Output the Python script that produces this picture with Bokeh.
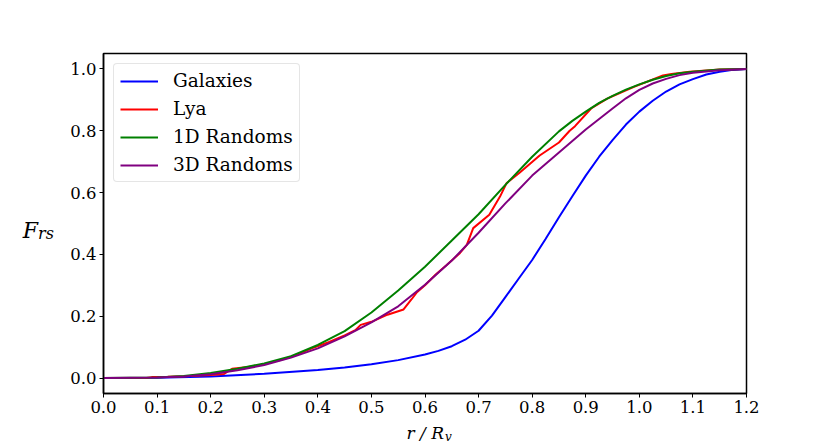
from bokeh.plotting import figure
from bokeh.models import Range1d, FixedTicker
from bokeh.layouts import row, column
from bokeh.core.properties import value
from bokeh.embed import file_html
from bokeh.resources import INLINE

# ---- data ----
r_gal = [0.0, 0.1, 0.2, 0.3, 0.4, 0.45, 0.5, 0.55, 0.6, 0.625, 0.65, 0.675, 0.7,
         0.725, 0.75, 0.775, 0.8, 0.825, 0.85, 0.875, 0.9, 0.925, 0.95, 0.975,
         1.0, 1.025, 1.05, 1.075, 1.1, 1.125, 1.15, 1.175, 1.2]
galaxies = [0.0, 0.001, 0.005, 0.014, 0.026, 0.034, 0.045, 0.058, 0.076, 0.088,
            0.103, 0.124, 0.153, 0.202, 0.262, 0.322, 0.382, 0.45, 0.52, 0.588,
            0.655, 0.716, 0.77, 0.82, 0.862, 0.897, 0.927, 0.95, 0.967, 0.982,
            0.991, 0.997, 1.0]
r_1d = [0.0, 0.1, 0.15, 0.2, 0.25, 0.3, 0.35, 0.4, 0.45, 0.5, 0.55, 0.6, 0.65, 0.7,
        0.75, 0.8, 0.85, 0.875, 0.9, 0.925, 0.95, 0.975, 1.0, 1.025, 1.05, 1.075,
        1.1, 1.15, 1.2]
randoms_1d = [0.0, 0.002, 0.007, 0.016, 0.03, 0.047, 0.071, 0.107, 0.152, 0.212,
              0.283, 0.36, 0.445, 0.53, 0.625, 0.716, 0.798, 0.832, 0.862, 0.89,
              0.913, 0.933, 0.95, 0.965, 0.977, 0.986, 0.991, 0.998, 1.0]
r_3d = [0.0, 0.1, 0.15, 0.2, 0.25, 0.3, 0.35, 0.4, 0.45, 0.5, 0.55, 0.6, 0.65, 0.7,
        0.75, 0.8, 0.85, 0.9, 0.95, 0.975, 1.0, 1.025, 1.05, 1.075, 1.1, 1.15, 1.2]
randoms_3d = [0.0, 0.002, 0.005, 0.012, 0.025, 0.042, 0.066, 0.096, 0.135, 0.18,
              0.232, 0.302, 0.38, 0.47, 0.565, 0.655, 0.73, 0.804, 0.872, 0.905,
              0.932, 0.953, 0.968, 0.98, 0.988, 0.996, 1.0]
r_lya = [0.0, 0.08, 0.09, 0.12, 0.15, 0.2, 0.225, 0.24, 0.27, 0.3, 0.33, 0.36, 0.39,
         0.42, 0.45, 0.47, 0.48, 0.5, 0.53, 0.56, 0.575, 0.585, 0.6, 0.62, 0.64,
         0.665, 0.678, 0.69, 0.72, 0.74, 0.752, 0.777, 0.814, 0.85, 0.87, 0.88,
         0.91, 0.94, 0.99, 1.044, 1.06, 1.094, 1.15, 1.2]
lya = [0.0, 0.0, 0.003, 0.004, 0.006, 0.01, 0.013, 0.03, 0.036, 0.045, 0.058, 0.075,
       0.097, 0.116, 0.138, 0.155, 0.172, 0.182, 0.205, 0.222, 0.255, 0.278, 0.3,
       0.335, 0.365, 0.404, 0.431, 0.485, 0.528, 0.587, 0.63, 0.665, 0.72, 0.762,
       0.8, 0.815, 0.872, 0.904, 0.942, 0.979, 0.984, 0.991, 0.998, 1.0]
x_ticks = [0.0, 0.1, 0.2, 0.3, 0.4, 0.5, 0.6, 0.7, 0.8, 0.9, 1.0, 1.1, 1.2]
y_ticks = [0.0, 0.2, 0.4, 0.6, 0.8, 1.0]
x_label_main, x_label_sub = "r / R", "v"
y_label_main, y_label_sub = "F", "rs"

SERIF = "DejaVu Serif"
W, H = 830, 443
LEFT_W = 60          # strip holding the y label
BOTTOM_H = 25        # strip holding the x label
MAIN_W, MAIN_H = W - LEFT_W, H - BOTTOM_H

# ---- main plot ----
p = figure(width=MAIN_W, height=MAIN_H, output_backend="svg", toolbar_location=None,
           title=None, x_range=Range1d(0, 1.2), y_range=Range1d(-0.05, 1.05),
           min_border_left=43, min_border_right=84, min_border_top=53,
           min_border_bottom=25)

p.line(r_gal, galaxies, line_color="blue", line_width=2, legend_label="Galaxies")
p.line(r_lya, lya, line_color="red", line_width=2, legend_label="Lya")
p.line(r_1d, randoms_1d, line_color="green", line_width=2, legend_label="1D Randoms")
p.line(r_3d, randoms_3d, line_color="purple", line_width=2, legend_label="3D Randoms")

p.grid.visible = False
p.outline_line_color = "black"
p.outline_line_width = 1.5
p.outline_line_alpha = 1.0

for ax in (p.xaxis[0], p.yaxis[0]):
    ax.axis_line_color = "black"
    ax.axis_line_width = 1.5
    ax.major_tick_line_color = "black"
    ax.major_tick_line_width = 1
    ax.major_tick_out = 4
    ax.major_tick_in = 0
    ax.minor_tick_line_color = None
    ax.major_label_text_font = SERIF
    ax.major_label_text_font_size = "16.5px"
    ax.major_label_text_color = "black"
    ax.major_label_standoff = 3

p.xaxis[0].ticker = FixedTicker(ticks=x_ticks)
p.yaxis[0].ticker = FixedTicker(ticks=y_ticks)
p.xaxis[0].major_label_overrides = {t: f"{t:.1f}" for t in x_ticks}
p.yaxis[0].major_label_overrides = {t: f"{t:.1f}" for t in y_ticks}

lg = p.legend[0]
lg.location = "top_left"
lg.margin = 10
lg.padding = 6
lg.spacing = 7
lg.glyph_width = 38
lg.glyph_height = 20
lg.label_height = 20
lg.label_standoff = 15
lg.label_text_font = SERIF
lg.label_text_font_size = "18.5px"
lg.label_text_color = "black"
lg.border_line_color = "#cccccc"
lg.border_line_width = 1
lg.background_fill_color = "white"
lg.background_fill_alpha = 0.8
if hasattr(lg, "border_radius"):
    lg.border_radius = 4


def strip(width, height, x0, y0):
    """A bare figure whose coordinates are page pixels (y downward)."""
    f = figure(width=width, height=height, output_backend="svg", toolbar_location=None,
               title=None, x_axis_type=None, y_axis_type=None,
               x_range=Range1d(x0, x0 + width), y_range=Range1d(y0 + height, y0),
               min_border=0, min_border_left=0, min_border_right=0,
               min_border_top=0, min_border_bottom=0)
    f.outline_line_color = None
    f.grid.visible = False
    f.background_fill_color = "white"
    f.border_fill_color = "white"
    return f


# ---- y label strip (left) ----
ly = strip(LEFT_W, MAIN_H, 0, 0)
ly.text(x=[37.5], y=[217.3], text=[y_label_main], text_font=value(SERIF),
        text_font_style="italic", text_font_size="22px", text_align="right",
        text_baseline="alphabetic", text_color="black")
ly.text(x=[37.5], y=[221.7], text=[y_label_sub], text_font=value(SERIF),
        text_font_style="italic", text_font_size="16px", text_align="left",
        text_baseline="alphabetic", text_color="black")

# ---- x label strip (bottom) ----
lx = strip(W, BOTTOM_H, 0, MAIN_H)
lx.text(x=[443.5], y=[432.3], text=[x_label_main], text_font=value(SERIF),
        text_font_style="italic", text_font_size="17px", text_align="right",
        text_baseline="alphabetic", text_color="black")
lx.text(x=[444.5], y=[436.7], text=[x_label_sub], text_font=value(SERIF),
        text_font_style="italic", text_font_size="12px", text_align="left",
        text_baseline="alphabetic", text_color="black")

layout = column(row(ly, p, spacing=0), lx, spacing=0)
open("out.html", "w").write(file_html(layout, INLINE))
